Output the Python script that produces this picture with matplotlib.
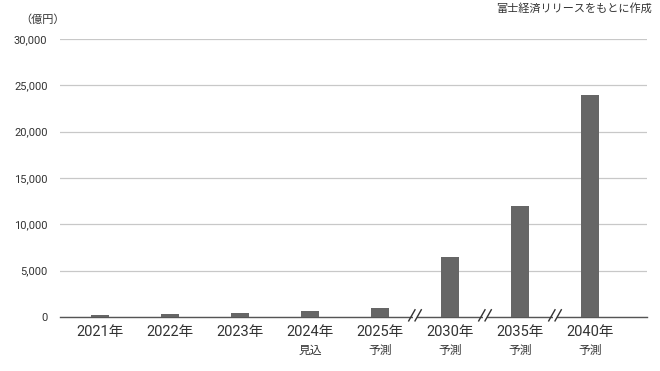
import matplotlib
matplotlib.use("Agg")
import matplotlib.pyplot as plt
from matplotlib.patches import Polygon

plt.rcParams['font.family'] = ['Roboto', 'Noto Sans CJK JP', 'DejaVu Sans']

# データ（億円）
years = ["2021年", "2022年", "2023年", "2024年", "2025年", "2030年", "2035年", "2040年"]
notes = ["", "", "", "見込", "予測", "予測", "予測", "予測"]
values = [220, 370, 400, 650, 1000, 6500, 12000, 24000]
yticks = [0, 5000, 10000, 15000, 20000, 25000, 30000]
break_after = [4, 5, 6]  # 2025-2030, 2030-2035, 2035-2040 の間に省略記号

BAR = "#666666"
TXT = "#333333"

fig = plt.figure(figsize=(6.6, 3.71), dpi=100)
ax = fig.add_axes([60 / 660, 1 - 317 / 371, 587 / 660, 278 / 371])

x = list(range(len(years)))
ax.bar(x, values, width=0.27, color=BAR, zorder=3)

ax.set_xlim(-0.571, 7.814)
ax.set_ylim(0, 30000)
ax.set_yticks(yticks)
ax.set_yticklabels([f"{v:,}" for v in yticks], fontsize=8, color=TXT)
ax.yaxis.grid(True, color="#c8c8c8", linewidth=0.9, zorder=0)
ax.set_axisbelow(True)

ax.set_xticks(x)
ax.set_xticklabels(years, fontsize=10.5, color=TXT)
ax.tick_params(axis="both", length=0)
ax.tick_params(axis="x", pad=6)
ax.tick_params(axis="y", pad=9)

for s in ["top", "right", "left"]:
    ax.spines[s].set_visible(False)
ax.spines["bottom"].set_color("#555555")
ax.spines["bottom"].set_linewidth(1.0)

# 見込・予測
for i, n in enumerate(notes):
    if n:
        ax.text(i, -0.119, n, transform=ax.get_xaxis_transform(), ha="center", va="center",
                fontsize=8.5, color=TXT)

# 省略記号 //
trans = ax.get_xaxis_transform()
for i in break_after:
    xm = i + 0.5
    dx = 0.045
    for off in (-0.045, 0.045):
        c = xm + off
        ax.plot([c - dx, c + dx], [-0.014, 0.026], transform=trans, color="#333333",
                linewidth=1.0, clip_on=False, zorder=5)
    ax.add_patch(Polygon([[xm - 0.03, -0.01], [xm + 0.03, -0.01], [xm + 0.03, 0.01], [xm - 0.03, 0.01]],
                         closed=True, transform=trans, facecolor="white", edgecolor="none",
                         clip_on=False, zorder=4))

fig.text(20 / 660, 1 - 20 / 371, "（億円）", fontsize=8, color=TXT, ha="left", va="center",
         family=['Noto Sans CJK JP', 'DejaVu Sans'])
fig.text(652 / 660, 1 - 8 / 371, "富士経済リリースをもとに作成", fontsize=8, color=TXT,
         ha="right", va="center", family=['Noto Sans CJK JP', 'DejaVu Sans'])

fig.savefig("out.png", dpi=100)
